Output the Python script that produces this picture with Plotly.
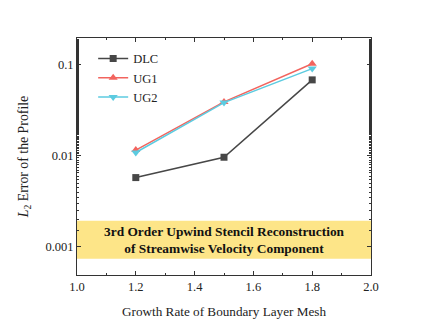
import math
import plotly.graph_objects as go

x_vals = [1.2, 1.5, 1.8]
dlc = [0.00578, 0.00967, 0.0684]
ug1 = [0.0116, 0.0392, 0.103]
ug2 = [0.0109, 0.0385, 0.091]
band_low, band_high = 0.000743, 0.00194
ytick_vals = [0.001, 0.01, 0.1]
ytick_text = ["0.001", "0.01", "0.1"]
xtick_vals = [1.0, 1.2, 1.4, 1.6, 1.8, 2.0]

FONT = "Liberation Serif, Times New Roman, serif"

fig = go.Figure()
fig.add_trace(go.Scatter(x=x_vals, y=dlc, name="DLC", mode="lines+markers",
                         line=dict(color="#474747", width=1.5),
                         marker=dict(symbol="square", size=7, color="#474747")))
fig.add_trace(go.Scatter(x=x_vals, y=ug1, name="UG1", mode="lines+markers",
                         line=dict(color="#F2645E", width=1.5),
                         marker=dict(symbol="triangle-up", size=8, color="#F2645E")))
fig.add_trace(go.Scatter(x=x_vals, y=ug2, name="UG2", mode="lines+markers",
                         line=dict(color="#5CCBE0", width=1.5),
                         marker=dict(symbol="triangle-down", size=8, color="#5CCBE0")))

fig.add_shape(type="rect", xref="paper", x0=0, x1=1, yref="y",
              y0=band_low, y1=band_high,
              fillcolor="#FDE588", line=dict(width=0), layer="below")

fig.add_annotation(x=1.5, y=(math.log10(band_low) + math.log10(band_high)) / 2,
                   xref="x", yref="y", showarrow=False,
                   text="<b>3rd Order Upwind Stencil Reconstruction<br>of Streamwise Velocity Component</b>",
                   font=dict(family=FONT, size=13.4, color="#111111"))

axis_common = dict(showline=True, linecolor="#333333", linewidth=1, mirror="ticks",
                   ticks="inside", ticklen=4, tickcolor="#333333", showgrid=False,
                   zeroline=False, automargin=False,
                   tickfont=dict(family=FONT, size=12.5, color="#222222"))

fig.update_xaxes(range=[1.0, 2.0], tickvals=xtick_vals, ticktext=[f"{v:.1f}" for v in xtick_vals],
                 minor=dict(ticks="inside", ticklen=2, dtick=0.1, tickcolor="#333333", showgrid=False),
                 title=dict(text="Growth Rate of Boundary Layer Mesh",
                            font=dict(family=FONT, size=13.2, color="#222222"), standoff=13),
                 **axis_common)
fig.update_yaxes(type="log", range=[-3.308, -0.705], tickvals=ytick_vals, ticktext=ytick_text,
                 minor=dict(ticks="inside", ticklen=2, tickcolor="#333333", showgrid=False),
                 title=dict(text="<i>L</i><sub>2</sub> Error of the Profile",
                            font=dict(family=FONT, size=13.8, color="#222222"), standoff=13),
                 **axis_common)

fig.update_layout(width=423, height=322, margin=dict(l=69, r=60, t=30, b=55),
                  paper_bgcolor="white", plot_bgcolor="white",
                  font=dict(family=FONT, size=12.5, color="#222222"),
                  legend=dict(x=0.055, y=0.975, xanchor="left", yanchor="top",
                              bgcolor="rgba(0,0,0,0)", font=dict(family=FONT, size=12.5, color="#222222"),
                              tracegroupgap=0))

fig.write_html("out.html")
